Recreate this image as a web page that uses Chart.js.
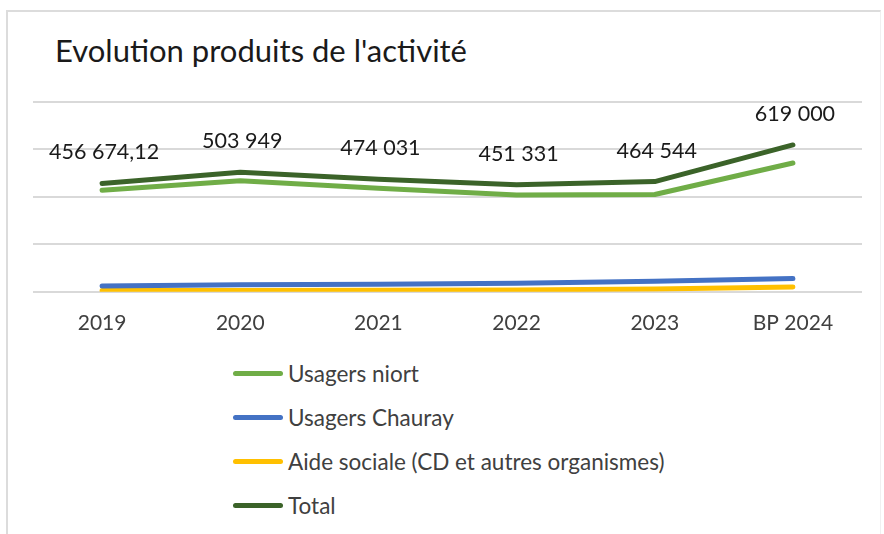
<!DOCTYPE html>
<html lang="fr">
<head>
<meta charset="UTF-8">
<title>Evolution produits de l'activité</title>
<script src="https://cdn.jsdelivr.net/npm/chart.js"></script>
<style>
  body { margin: 0; background: #fff; font-family: Lato, "Open Sans", sans-serif; color: #404040; }
  #frame { position: absolute; left: 6px; top: 10px; width: 872px; height: 540px;
           border-left: 2px solid #dcdcdc; border-top: 2px solid #dcdcdc; border-right: 1px solid #f0f0f0; }
  #title { position: absolute; left: 55px; top: 31px; font-size: 31px; color: #1a1a1a; }
  #wrap { position: absolute; left: 0; top: 0; width: 884px; height: 347px; }
  #legend { position: absolute; left: 233px; top: 351px; }
  .item { display: flex; align-items: center; height: 44px; font-size: 22.5px; color: #404040; }
  .swatch { width: 50px; height: 5px; border-radius: 3px; margin-right: 5px; }
</style>
</head>
<body>
<div id="frame"></div>
<div id="title">Evolution produits de l'activité</div>
<div id="wrap"><canvas id="chart"></canvas></div>
<div id="legend"></div>

<script>
// Values (euros)
const years = ['2019', '2020', '2021', '2022', '2023', 'BP 2024'];
const usagersNiort = [428000, 468000, 436000, 408000, 410000, 543000];
const usagersChauray = [24000, 30000, 32000, 36000, 44000, 56000];
const aideSociale = [5000, 6000, 7000, 8000, 12000, 20000];
const total = [456674.12, 503949, 474031, 451331, 464544, 619000];

function fmt(v) {
    return v.toLocaleString('fr-FR', { maximumFractionDigits: 2 }).replace(/\s/g, ' ');
}

// draws the labels above the Total line
const totalLabels = {
    id: 'totalLabels',
    afterDatasetsDraw(chart) {
        const ctx = chart.ctx;
        const meta = chart.getDatasetMeta(3);
        ctx.save();
        ctx.font = '21.5px Lato, "Open Sans", sans-serif';
        ctx.fillStyle = '#1a1a1a';
        ctx.textAlign = 'center';
        ctx.textBaseline = 'middle';
        meta.data.forEach((pt, i) => {
            ctx.fillText(fmt(total[i]), pt.x + 2, pt.y - 31);
        });
        ctx.restore();
    }
};

const line = (label, data, color) => ({
    label: label,
    data: data,
    borderColor: color,
    backgroundColor: color,
    borderWidth: 5,
    borderCapStyle: 'round',
    borderJoinStyle: 'round',
    pointRadius: 0,
    tension: 0
});

const ctx = document.getElementById('chart').getContext('2d');
const chart = new Chart(ctx, {
    type: 'line',
    data: {
        labels: years,
        datasets: [
            line('Usagers niort', usagersNiort, '#70ad47'),
            line('Usagers Chauray', usagersChauray, '#4472c4'),
            line('Aide sociale (CD et autres organismes)', aideSociale, '#ffc000'),
            line('Total', total, '#3b6329')
        ]
    },
    options: {
        responsive: true,
        maintainAspectRatio: false,
        animation: false,
        layout: { padding: { left: 33, right: 22, top: 102, bottom: 0 } },
        plugins: {
            legend: { display: false },
            tooltip: { enabled: false }
        },
        scales: {
            x: {
                offset: true,
                grid: { display: false },
                border: { display: false },
                ticks: { color: '#404040', font: { family: 'Lato, "Open Sans", sans-serif', size: 21 }, padding: 11 }
            },
            y: {
                min: 0,
                max: 800000,
                ticks: { display: false, stepSize: 200000 },
                border: { display: false },
                grid: { color: '#d9d9d9', lineWidth: 2, drawTicks: false }
            }
        }
    },
    plugins: [totalLabels]
});

// legend as a vertical list, built from the chart datasets
const legendEl = document.getElementById('legend');
chart.data.datasets.forEach(ds => {
    const row = document.createElement('div');
    row.className = 'item';
    const sw = document.createElement('span');
    sw.className = 'swatch';
    sw.style.background = ds.borderColor;
    row.appendChild(sw);
    row.appendChild(document.createTextNode(ds.label));
    legendEl.appendChild(row);
});
</script>
</body>
</html>
